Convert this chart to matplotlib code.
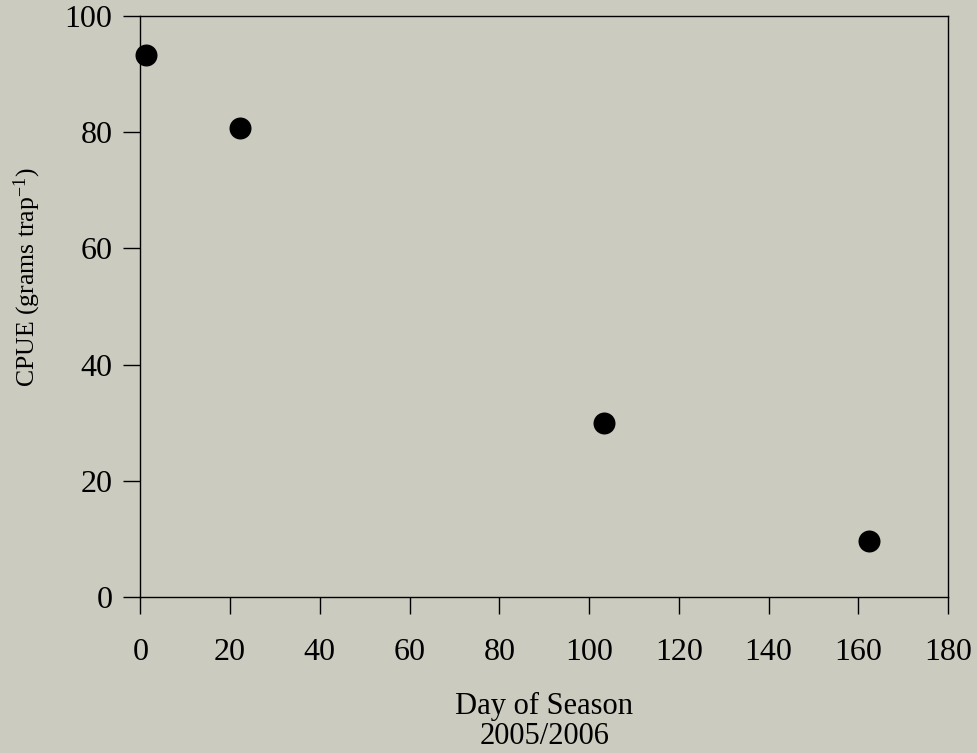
import matplotlib
matplotlib.use('Agg')
import matplotlib.pyplot as plt

# CPUE by day of season, 2005/2006
day = [1.2, 22.2, 103.4, 162.3]
cpue = [93.3, 80.8, 29.9, 9.7]

bg = '#cbcbbf'

plt.rcParams['font.family'] = ['Liberation Serif', 'DejaVu Serif']
plt.rcParams['mathtext.fontset'] = 'custom'
plt.rcParams['mathtext.rm'] = 'Liberation Serif'
plt.rcParams['mathtext.it'] = 'Liberation Serif:italic'

fig = plt.figure(figsize=(9.78, 7.53), dpi=100, facecolor=bg)
ax = fig.add_axes([0.1435, 0.2068, 0.8258, 0.7720])
ax.set_facecolor(bg)

ax.scatter(day, cpue, s=220, color='black', zorder=3, clip_on=False)

ax.set_xlim(0, 180)
ax.set_ylim(0, 100)
ax.set_xticks(range(0, 181, 20))
ax.set_yticks(range(0, 101, 20))
ax.tick_params(direction='out', length=12, width=1, labelsize=23, colors='black')
ax.tick_params(axis='x', pad=17)
ax.tick_params(axis='y', pad=8)
for sp in ax.spines.values():
    sp.set_linewidth(1)

ax.set_xlabel('Day of Season\n2005/2006', fontsize=22, labelpad=18, linespacing=1.06)
ax.set_ylabel('CPUE (grams trap$^{-1}$)', fontsize=18.5)
ax.yaxis.set_label_coords(-0.1205, 0.551)

plt.savefig('out.png', dpi=100, facecolor=bg)
plt.close()
